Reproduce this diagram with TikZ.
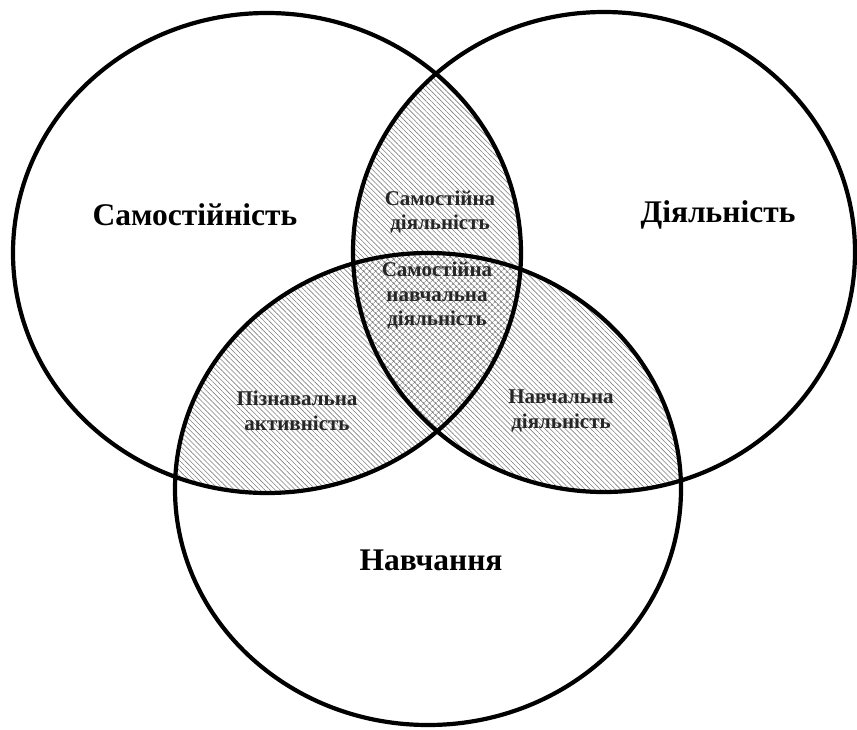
\documentclass[tikz,border=0pt]{standalone}
\usepackage{fontspec}
\setmainfont{Liberation Serif}
\usetikzlibrary{patterns.meta}
\tikzset{
  ring/.style={draw=black, line width=4.2pt},
  lens/.style={pattern={Lines[angle=-45,distance=3.6pt,line width=0.6pt]}, pattern color=black!50},
  core/.style={pattern={Hatch[angle=45,distance=4pt,line width=0.6pt]}, pattern color=black!55},
  biglabel/.style={font=\fontsize{31.5}{36}\selectfont\bfseries, align=center},
  smalllabel/.style={font=\fontsize{21}{24.5}\selectfont\bfseries, align=center, text=black!85},
}
\begin{document}
\begin{tikzpicture}[x=1pt,y=-1pt]
\useasboundingbox (0,0) rectangle (857,729);
\def\Lpath{(267,253) ellipse [x radius=254pt, y radius=240pt]}
\def\Rpath{(604,252) ellipse [x radius=251pt, y radius=240pt]}
\def\Bpath{(428,489) ellipse [x radius=253pt, y radius=236pt]}
% pairwise overlaps
\begin{scope}
  \clip \Lpath;
  \fill[lens] \Rpath;
  \fill[lens] \Bpath;
\end{scope}
\begin{scope}
  \clip \Rpath;
  \fill[lens] \Bpath;
\end{scope}
% triple overlap
\begin{scope}
  \clip \Lpath;
  \clip \Rpath;
  \fill[white] \Bpath;
  \fill[core] \Bpath;
\end{scope}
% rings
\draw[ring] \Lpath;
\draw[ring] \Rpath;
\draw[ring] \Bpath;
% labels
\node[biglabel] (sam) at (195,215) {Самостійність};
\node[biglabel] (dij) at (718,215) {Діяльність};
\node[biglabel] (nav) at (431,560) {Навчання};
\node[smalllabel] (samdij) at (440,212) {Самостійна\\діяльність};
\node[smalllabel] (samnav) at (437,296) {Самостійна\\навчальна\\діяльність};
\node[smalllabel] (piz) at (297,411) {Пізнавальна\\активність};
\node[smalllabel] (navdij) at (561,411) {Навчальна\\діяльність};
\end{tikzpicture}
\end{document}
